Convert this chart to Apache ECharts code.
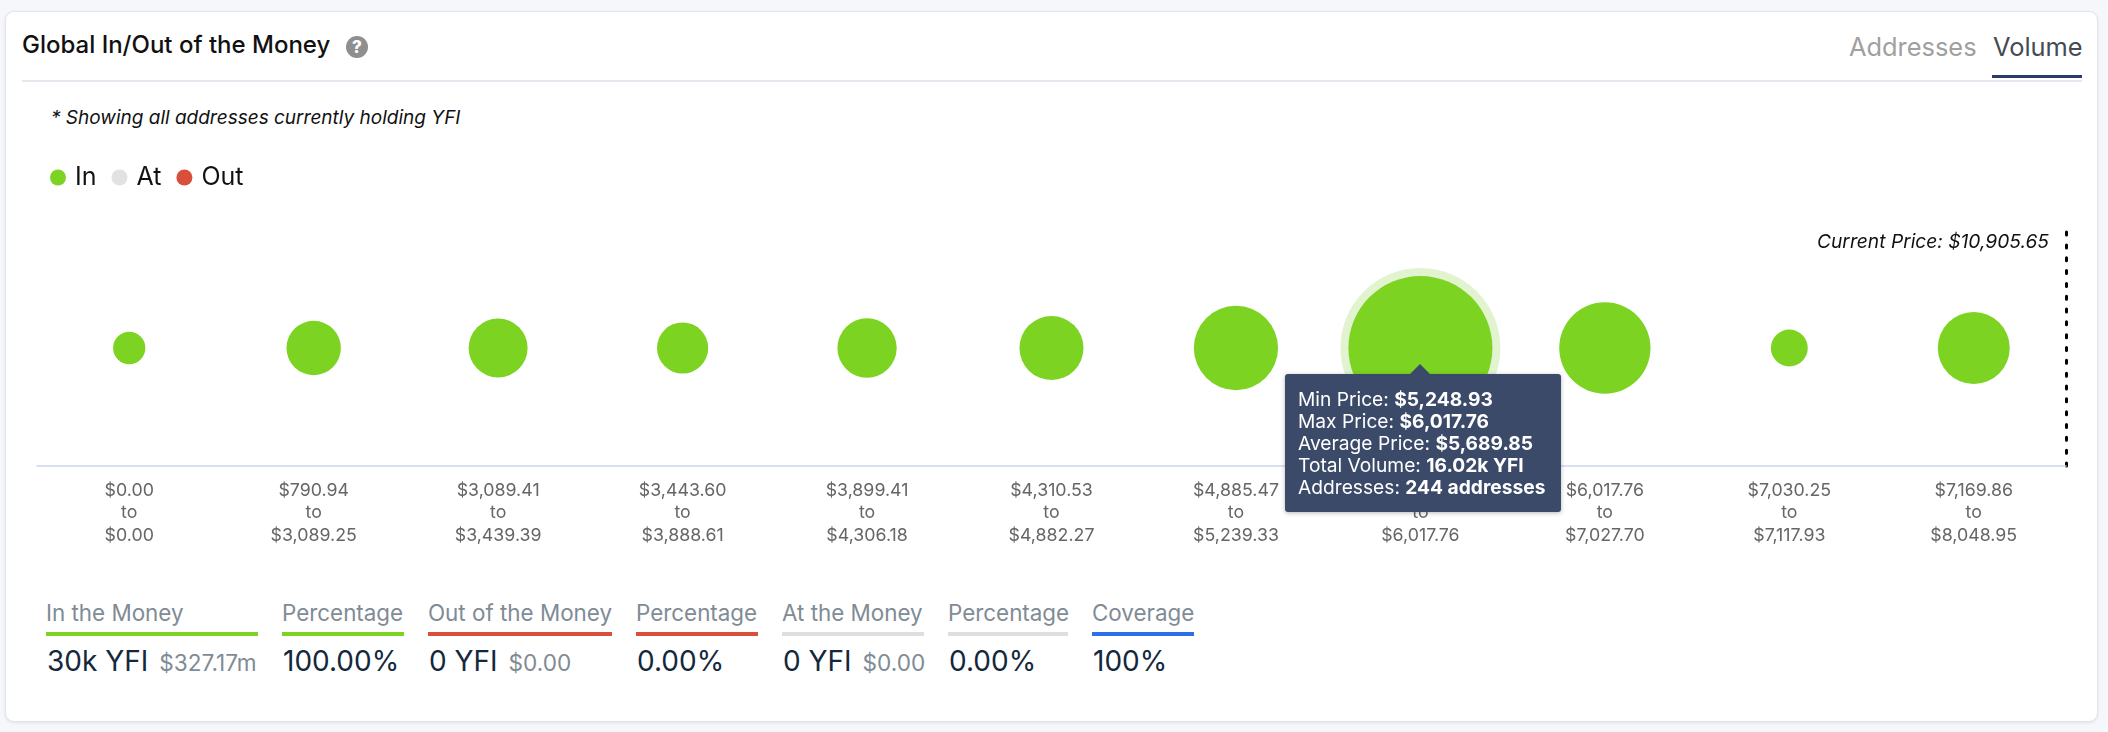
<!DOCTYPE html>
<html><head><meta charset="utf-8">
<script src="https://cdn.jsdelivr.net/npm/echarts@6/dist/echarts.min.js"></script>
<style>
html,body{margin:0;padding:0;width:2108px;height:732px;overflow:hidden;background:#f5f7fb;font-family:Inter,"Noto Sans",sans-serif}
#card{position:absolute;left:5px;top:11px;width:2093px;height:711px;background:#fff;border:1px solid #e3e5ea;border-radius:9px;box-shadow:0 1px 3px rgba(60,70,90,.12);box-sizing:border-box}
.t{position:absolute;white-space:nowrap;line-height:1}
#chart{position:absolute;left:0;top:0;width:2108px;height:732px}
.bar{position:absolute;height:4px}
</style></head><body>
<div id="card"></div>
<div class="t" style="left:22px;top:33px;font-size:24px;font-weight:500;color:#111">Global In/Out of the Money</div>
<div style="position:absolute;left:346px;top:36px;width:22px;height:22px;border-radius:50%;background:#8f8f8f;color:#fff;font-size:17px;font-weight:800;line-height:22px;text-align:center">?</div>
<div style="position:absolute;left:22px;top:80px;width:2060px;height:2px;background:#e4e8ee"></div>
<div class="t" style="left:1849px;top:34px;font-size:25.4px;color:#a0a0a0">Addresses</div>
<div class="t" style="left:1993px;top:34px;font-size:25.4px;color:#454b52">Volume</div>
<div style="position:absolute;left:1992px;top:75px;width:90px;height:3px;background:#2a3b73"></div>
<div class="t" style="left:51px;top:108px;font-size:19px;font-style:italic;color:#111">* Showing all addresses currently holding YFI</div>
<div id="stats"></div>
<div id="chart"></div>
<script>
const priceLows = ['$0.00','$790.94','$3,089.41','$3,443.60','$3,899.41','$4,310.53','$4,885.47','$5,248.93','$6,017.76','$7,030.25','$7,169.86'];
const priceHighs = ['$0.00','$3,089.25','$3,439.39','$3,888.61','$4,306.18','$4,882.27','$5,239.33','$6,017.76','$7,027.70','$7,117.93','$8,048.95'];
const volumesK = [0.18,0.86,1.10,0.72,1.12,1.41,3.21,16.02,4.08,0.27,2.00];
const bubbleLevel = [1,1,1,1,1,1,1,1,1,1,1];
const legendNames = ['In','At','Out'];
const activeIndex = 7;
const tooltipLabels = ['Min Price','Max Price','Average Price','Total Volume','Addresses'];
const tooltipValues = ['$5,248.93','$6,017.76','$5,689.85','16.02k YFI','244 addresses'];
const currentPrice = 'Current Price: $10,905.65';
const statLabels = ['In the Money','Percentage','Out of the Money','Percentage','At the Money','Percentage','Coverage'];
const statValues = ['30k YFI','100.00%','0 YFI','0.00%','0 YFI','0.00%','100%'];
const statSubs = ['$327.17m','','$0.00','','$0.00','',''];

const GREEN='#7cd321', RED='#d9503a', GREY='#e2e2e2', BLUE='#2c6fe8';
const statColors=[GREEN,GREEN,RED,RED,'#dedede','#dedede',BLUE];
const statBox=[[46,212],[282,122],[428,184],[636,122],[782,142],[948,120],[1092,102]];
let h='';
statLabels.forEach((l,i)=>{
  const [x,w]=statBox[i];
  h+=`<div class="t" style="left:${x}px;top:602px;font-size:22.4px;color:#7f8b95">${l}</div>`;
  h+=`<div class="bar" style="left:${x}px;top:632px;width:${w}px;background:${statColors[i]}"></div>`;
  h+=`<div class="t" style="left:${x+1}px;top:647px;font-size:28px;color:#14283c">${statValues[i]}`+
     (statSubs[i]?`<span style="font-size:22.6px;color:#7f8b95;margin-left:11px">${statSubs[i]}</span>`:'')+`</div>`;
});
document.getElementById('stats').innerHTML=h;

const sizeOf = v => 144*Math.cbrt(v/16.02);
const cats = priceLows.map((l,i)=>l+'\nto\n'+priceHighs[i]);
const chart = echarts.init(document.getElementById('chart'));
chart.setOption({
  animation:false,
  backgroundColor:'transparent',
  textStyle:{fontFamily:'Inter'},
  grid:{left:37,right:42,top:230,bottom:266},
  legend:{data:legendNames,left:45,top:160,icon:'circle',itemWidth:16,itemHeight:16,itemGap:15,
    selectedMode:false,textStyle:{fontSize:25,color:'#111',fontFamily:'Inter',padding:[0,0,0,4]}},
  tooltip:{trigger:'item',alwaysShowContent:true,transitionDuration:0,showDelay:0,
    backgroundColor:'#3b4a68',borderWidth:0,padding:[14,16,14,13],
    extraCssText:'border-radius:3px;box-shadow:0 1px 4px rgba(40,50,70,.35);',
    position:()=>[1285,374],
    textStyle:{color:'#fff',fontSize:19.2,fontFamily:'Inter'},
    formatter:()=>'<div style="position:absolute;left:125px;top:-10px;width:0;height:0;border-left:10px solid transparent;border-right:10px solid transparent;border-bottom:10px solid #3b4a68"></div>'+
      tooltipLabels.map((l,i)=>`<div style="line-height:22px;height:22px">${l}: <b style="font-weight:700">${tooltipValues[i]}</b></div>`).join('')
  },
  xAxis:{type:'category',data:cats,boundaryGap:true,
    axisLine:{lineStyle:{color:'#ccd6eb',width:1.5}},axisTick:{show:false},
    axisLabel:{interval:0,margin:13,fontSize:17.8,lineHeight:22.7,color:'#666',fontFamily:'Inter'}},
  yAxis:{type:'value',min:0,max:2,position:'right',splitLine:{show:false},axisTick:{show:false},axisLabel:{show:false},
    axisLine:{show:true,lineStyle:{color:'#000',width:3,type:[3,9.83]}},
    name:currentPrice,nameLocation:'end',nameGap:-12,
    nameTextStyle:{fontFamily:'Inter',fontSize:19.2,fontStyle:'italic',color:'#111',align:'right',verticalAlign:'middle',padding:[0,17,0,0]}},
  series:[
    {name:'In halo',type:'scatter',silent:true,z:1,tooltip:{show:false},
     data:[[activeIndex,bubbleLevel[activeIndex],volumesK[activeIndex]]],
     symbolSize:v=>sizeOf(v[2])+16,itemStyle:{color:'#e1f3cf',opacity:1}},
    {name:'In',type:'scatter',z:2,
     data:volumesK.map((v,i)=>[i,bubbleLevel[i],v]),
     symbolSize:v=>sizeOf(v[2]),itemStyle:{color:GREEN,opacity:1}},
    {name:'At',type:'scatter',data:[],itemStyle:{color:GREY,opacity:1}},
    {name:'Out',type:'scatter',data:[],itemStyle:{color:RED,opacity:1}}
  ]
});
chart.dispatchAction({type:'showTip',seriesIndex:1,dataIndex:activeIndex});
</script>
</body></html>
